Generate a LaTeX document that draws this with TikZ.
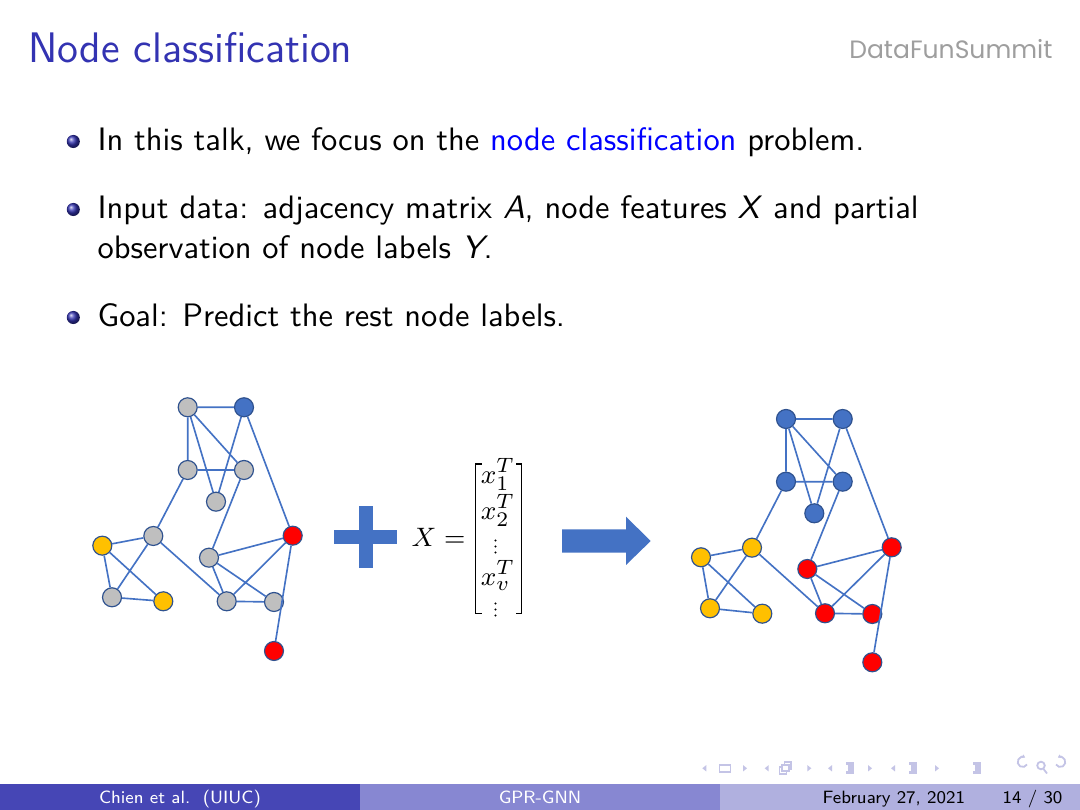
\documentclass[tikz,border=0pt]{standalone}
\usepackage{fontspec}
\usepackage{amsmath}
\usetikzlibrary{arrows.meta}
\newfontfamily\dfsfont{Poppins}
\definecolor{structure}{RGB}{51,51,178}
\definecolor{offblue}{RGB}{68,114,196}
\definecolor{nodeedge}{RGB}{47,82,143}
\definecolor{ngray}{RGB}{191,191,191}
\definecolor{nyellow}{RGB}{255,192,0}
\definecolor{nred}{RGB}{255,0,0}
\definecolor{footA}{RGB}{70,70,181}
\definecolor{footB}{RGB}{135,135,210}
\definecolor{footC}{RGB}{176,176,223}
\definecolor{navcol}{RGB}{196,196,230}
\definecolor{dfsgray}{RGB}{158,158,158}
\tikzset{
  txt/.style={inner sep=0pt, font=\sffamily\fontsize{10.95}{13.6}\selectfont},
  foot/.style={inner sep=0pt, font=\sffamily\fontsize{6}{7}\selectfont},
  gn/.style={circle, draw=nodeedge, line width=0.4pt, minimum size=2.25mm, inner sep=0pt},
  ge/.style={draw=offblue, line width=0.55pt},
  bul/.style={circle, inner sep=0pt, minimum size=1.55mm, ball color=structure},
  mtx/.style={inner sep=0pt, font=\fontsize{9.5}{11}\selectfont},
  brk/.style={draw=black, line width=0.5pt},
  vdot/.style={circle, fill=black, inner sep=0pt, minimum size=0.28mm},
  navtri/.style={fill=navcol},
  navln/.style={draw=navcol, line width=0.45pt},
  pics/navleft/.style={code={\fill[navtri] (2,-3.2)--(-2,0)--(2,3.2)--cycle;}},
  pics/navright/.style={code={\fill[navtri] (-2,-3.2)--(2,0)--(-2,3.2)--cycle;}},
  pics/navslide/.style={code={\draw[navln, line width=0.6pt] (-5.5,-3.6) rectangle (5.5,3.6);}},
  pics/navframe/.style={code={\draw[navln, line width=0.6pt] (-5.5,-1) rectangle (1.5,5.5);\fill[white] (-3,-3.5) rectangle (4,3);\draw[navln, line width=0.6pt] (-3,-3.5) rectangle (4,3);\draw[navln, line width=0.6pt] (-0.5,-3.5)--(-0.5,-6)--(6,-6)--(6,0.5)--(4,0.5);}},
  pics/navsec/.style={code={\draw[navln, line width=0.9pt] (-4,-4.5)--(4,-4.5) (-2.5,-1.5)--(4,-1.5) (-2.5,1.5)--(4,1.5) (-4,4.5)--(4,4.5);}},
}
\begin{document}
\begin{tikzpicture}[x=0.118519mm, y=-0.118519mm]
\useasboundingbox (0,0) rectangle (1080,810);
\fill[white] (0,0) rectangle (1080,810);

% header
\node[inner sep=0pt, anchor=base west, font=\sffamily\fontsize{14.4}{18}\selectfont, text=structure] (title) at (28,62.5) {Node classification};
\node[inner sep=0pt, anchor=base east, font=\dfsfont\fontsize{8.45}{10}\selectfont, text=dfsgray] (dfs) at (1053,58.3) {DataFunSummit};

% bullets
\node[bul] (b1) at (73.3,141.5) {};
\node[txt, anchor=base west] (t1) at (97,150.5) {In this talk, we focus on the \textcolor{blue}{node classification} problem.};
\node[bul] (b2) at (73.3,209.5) {};
\node[txt, anchor=base west] (t2a) at (97,218.5) {Input data: adjacency matrix \textit{A}, node features \textit{X} and partial};
\node[txt, anchor=base west] (t2b) at (97,258.5) {observation of node labels \textit{Y}.};
\node[bul] (b3) at (73.3,317.5) {};
\node[txt, anchor=base west] (t3) at (97,326.5) {Goal: Predict the rest node labels.};

% left graph
\node[gn, fill=ngray]   (La) at (187.7,407.3) {};
\node[gn, fill=offblue] (Lb) at (244,407.3) {};
\node[gn, fill=ngray]   (Lc) at (187.7,470) {};
\node[gn, fill=ngray]   (Ld) at (244,470) {};
\node[gn, fill=ngray]   (Le) at (216,501.7) {};
\node[gn, fill=ngray]   (Lf) at (153.3,536) {};
\node[gn, fill=nyellow] (Lg) at (102.3,545.7) {};
\node[gn, fill=nred]    (Lh) at (292.7,535.7) {};
\node[gn, fill=ngray]   (Li) at (209,557.7) {};
\node[gn, fill=ngray]   (Lj) at (112,597.3) {};
\node[gn, fill=nyellow] (Lk) at (163.3,601.3) {};
\node[gn, fill=ngray]   (Ll) at (226.7,601.3) {};
\node[gn, fill=ngray]   (Lm) at (274,602) {};
\node[gn, fill=nred]    (Ln) at (274,651) {};
\draw[ge] (La)--(Lb) (La)--(Lc) (La)--(Ld) (La)--(Le) (Lb)--(Le) (Lc)--(Ld)
  (Lb)--(Lh) (Lc)--(Lf) (Ld)--(Li) (Lf)--(Lg) (Lf)--(Lj) (Lf)--(Ll)
  (Lg)--(Lj) (Lg)--(Lk) (Lj)--(Lk) (Lh)--(Li) (Lh)--(Ll) (Lh)--(Ln)
  (Li)--(Ll) (Li)--(Lm) (Ll)--(Lm);

% plus
\fill[offblue] (334,530) rectangle (397.3,544);
\fill[offblue] (359,506) rectangle (372.7,568.3);

% feature matrix
\node[mtx, anchor=base east] (X) at (466,546.7) {$X=$};
\draw[brk] (481.7,464)--(475.3,464)--(475.3,613.3)--(481.7,613.3);
\draw[brk] (516,464)--(521.7,464)--(521.7,613.3)--(516,613.3);
\node[mtx, anchor=base] (x1) at (498,484) {$x_1^T$};
\node[mtx, anchor=base] (x2) at (498,519.5) {$x_2^T$};
\node[mtx, anchor=base] (xv) at (498,585.5) {$x_v^T$};
\node[vdot] (d1a) at (495.5,540.5) {};
\node[vdot] (d1b) at (495.5,546.5) {};
\node[vdot] (d1c) at (495.5,552.5) {};
\node[vdot] (d2a) at (495.5,603.5) {};
\node[vdot] (d2b) at (495.5,609.5) {};
\node[vdot] (d2c) at (495.5,615.5) {};

% big arrow
\fill[offblue] (562,529.3)--(626,529.3)--(626,516.7)--(650.7,541)--(626,565)--(626,552.7)--(562,552.7)--cycle;

% right graph
\node[gn, fill=offblue] (Ra) at (786,419) {};
\node[gn, fill=offblue] (Rb) at (842.7,419) {};
\node[gn, fill=offblue] (Rc) at (786,481.7) {};
\node[gn, fill=offblue] (Rd) at (842.7,481.7) {};
\node[gn, fill=offblue] (Re) at (814.3,513.3) {};
\node[gn, fill=nyellow] (Rf) at (752,547.7) {};
\node[gn, fill=nyellow] (Rg) at (701,557.3) {};
\node[gn, fill=nred]    (Rh) at (891.7,547.3) {};
\node[gn, fill=nred]    (Ri) at (807.3,569) {};
\node[gn, fill=nyellow] (Rj) at (710,608.3) {};
\node[gn, fill=nyellow] (Rk) at (762.3,613.7) {};
\node[gn, fill=nred]    (Rl) at (825,613.3) {};
\node[gn, fill=nred]    (Rm) at (872.3,614) {};
\node[gn, fill=nred]    (Rn) at (872.3,662.3) {};
\draw[ge] (Ra)--(Rb) (Ra)--(Rc) (Ra)--(Rd) (Ra)--(Re) (Rb)--(Re) (Rc)--(Rd)
  (Rb)--(Rh) (Rc)--(Rf) (Rd)--(Ri) (Rf)--(Rg) (Rf)--(Rj) (Rf)--(Rl)
  (Rg)--(Rj) (Rg)--(Rk) (Rj)--(Rk) (Rh)--(Ri) (Rh)--(Rl) (Rh)--(Rn)
  (Ri)--(Rl) (Ri)--(Rm) (Rl)--(Rm);

% navigation symbols
\pic at (704.3,768.3) {navleft};  \pic at (725,768.3) {navslide}; \pic at (745,768.3) {navright};
\pic at (766.7,768.3) {navleft};  \pic at (785,768.3) {navframe}; \pic at (809.3,768.3) {navright};
\pic at (830,768.3) {navleft};    \pic at (850,768.3) {navsec};   \pic at (870,768.3) {navright};
\pic at (893,768.3) {navleft};    \pic at (913,768.3) {navsec};   \pic at (937,768.3) {navright};
\pic at (977,768.3) {navsec};
\draw[navln, line width=0.6pt, -{Latex[length=1pt,width=1.5pt]}] (1027,764.5) arc[start angle=30, end angle=300, radius=5];
\draw[navln, line width=0.6pt] (1041,765.5) circle (3.8) (1043.5,769)--(1047,773.5);
\draw[navln, line width=0.6pt, -{Latex[length=1pt,width=1.5pt]}] (1056,764.5) arc[start angle=150, end angle=-120, radius=5];

% footline
\fill[footA] (0,784) rectangle (360,810);
\fill[footB] (360,784) rectangle (720,810);
\fill[footC] (720,784) rectangle (1080,810);
\node[foot, anchor=base, text=white] (fa) at (180,803.5) {Chien et al.~~(UIUC)};
\node[foot, anchor=base, text=white] (fb) at (540,803.5) {GPR-GNN};
\node[foot, anchor=base west, text=black] (fc) at (822,803.5) {February 27, 2021};
\node[foot, anchor=base east, text=black] (fd) at (1063,803.5) {14 / 30};
\end{tikzpicture}
\end{document}
